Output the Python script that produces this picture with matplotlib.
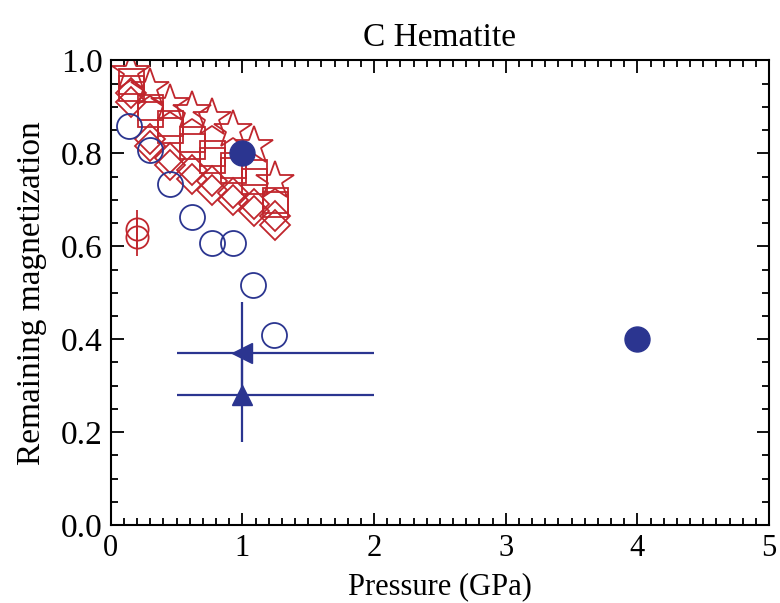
import matplotlib
matplotlib.use("Agg")
import matplotlib.pyplot as plt
from matplotlib.ticker import MultipleLocator, FormatStrFormatter

plt.rcParams['font.family'] = ['Liberation Serif', 'DejaVu Serif']

# data
p_red = [0.15, 0.30, 0.45, 0.62, 0.77, 0.93, 1.09, 1.25]
star_y = [0.975, 0.94, 0.905, 0.89, 0.875, 0.85, 0.815, 0.74]
square_y = [0.955, 0.90, 0.865, 0.83, 0.80, 0.775, 0.76, 0.70]
square2_y = [0.94, 0.885, 0.85, 0.815, 0.785, 0.765, 0.74, 0.69]
diam_y = [0.93, 0.83, 0.79, 0.765, 0.74, 0.715, 0.69, 0.665]
diam2_y = [0.91, 0.815, 0.775, 0.745, 0.72, 0.70, 0.675, 0.645]

p_blue = [0.14, 0.30, 0.45, 0.62, 0.77, 0.93, 1.08, 1.24]
circ_y = [0.858, 0.806, 0.733, 0.663, 0.606, 0.606, 0.516, 0.409]

filled_p = [1.0, 4.0]
filled_y = [0.80, 0.40]

redcirc_p = [0.2, 0.2]
redcirc_y = [0.637, 0.619]
redcirc_err = [0.04, 0.04]

tri_left_p, tri_left_y, tri_left_yerr = 1.0, 0.37, 0.11
tri_up_p, tri_up_y, tri_up_yerr = 1.0, 0.28, 0.10
tri_xerr = [[0.5], [1.0]]

red = '#C0262D'
blue = '#2B3590'

fig = plt.figure(figsize=(7.8, 6.03), dpi=100)
ax = fig.add_axes([0.142, 0.129, 0.844, 0.771])

kw = dict(ls='none', mfc='none', mew=1.3, color=red)
ax.plot(p_red, diam2_y, marker='D', ms=15, **kw)
ax.plot(p_red, diam_y, marker='D', ms=15, **kw)
ax.plot(p_red, square2_y, marker='s', ms=18, **kw)
ax.plot(p_red, square_y, marker='s', ms=18, **kw)
ax.plot(p_red, star_y, marker='*', ms=29, **kw)
ax.errorbar(redcirc_p, redcirc_y, yerr=redcirc_err, fmt='o', ms=16,
            mfc='none', mec=red, mew=1.3, ecolor=red, elinewidth=1.3, capsize=0)

ax.plot(p_blue, circ_y, marker='o', ms=18, ls='none', mfc='none', mec=blue, mew=1.3)
ax.plot(filled_p, filled_y, marker='o', ms=18, ls='none', color=blue)

ax.errorbar([tri_left_p], [tri_left_y], xerr=tri_xerr, yerr=[[tri_left_yerr], [tri_left_yerr]],
            fmt='<', ms=14, color=blue, elinewidth=1.6, capsize=0)
ax.errorbar([tri_up_p], [tri_up_y], xerr=tri_xerr, yerr=[[tri_up_yerr], [tri_up_yerr]],
            fmt='^', ms=14, color=blue, elinewidth=1.6, capsize=0)

ax.set_xlim(0, 5)
ax.set_ylim(0, 1.0)
ax.xaxis.set_major_locator(MultipleLocator(1))
ax.xaxis.set_minor_locator(MultipleLocator(0.1))
ax.yaxis.set_major_locator(MultipleLocator(0.2))
ax.yaxis.set_minor_locator(MultipleLocator(0.05))
ax.yaxis.set_major_formatter(FormatStrFormatter('%.1f'))
ax.tick_params(which='both', direction='in', top=True, right=True, width=1.3)
ax.tick_params(which='major', length=9)
ax.tick_params(which='minor', length=5)
ax.tick_params(axis='x', pad=6, labelsize=22)
ax.tick_params(axis='y', pad=6, labelsize=24)
for s in ax.spines.values():
    s.set_linewidth(1.5)

# x label pinned near the bottom edge so it clears the tick labels
ax.set_xlabel('Pressure (GPa)', fontsize=22, va='bottom')
ax.xaxis.set_label_coords(0.5, -76 / 465)
ax.set_ylabel('Remaining magnetization', fontsize=24, labelpad=10)
ax.set_title('C Hematite', fontsize=24, pad=10)

fig.savefig('out.png', dpi=100)
